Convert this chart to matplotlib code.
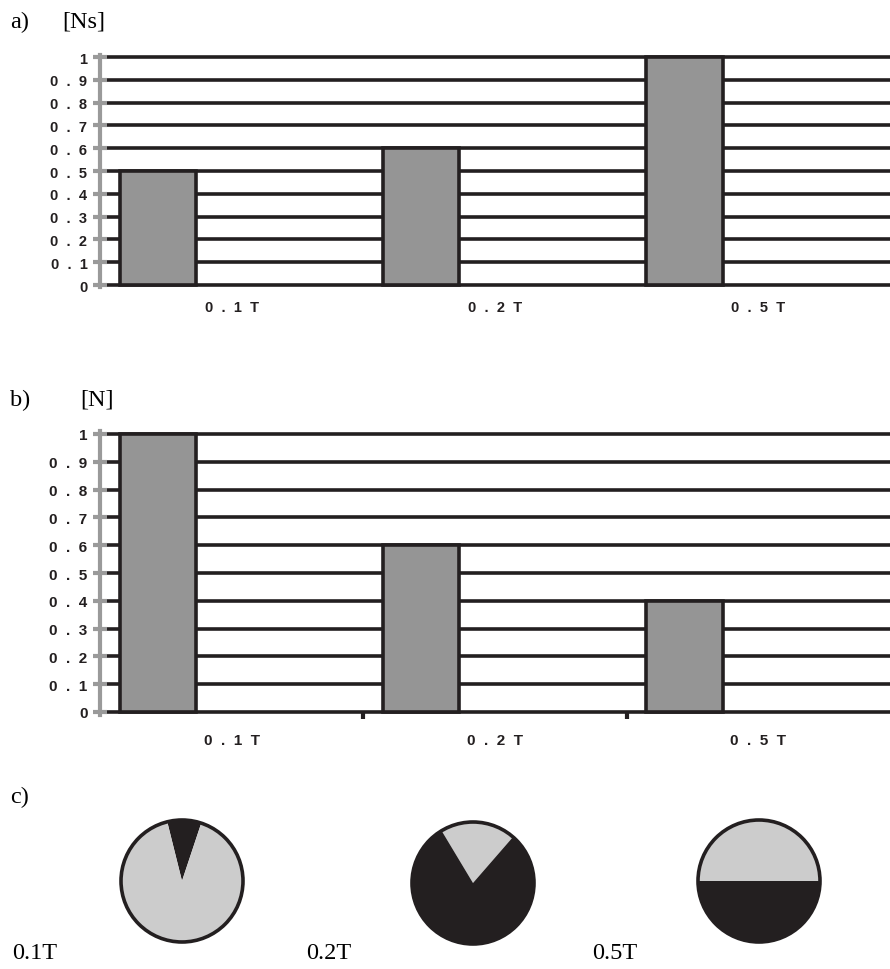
import matplotlib
matplotlib.use("Agg")
import matplotlib.pyplot as plt
from matplotlib.patches import Circle

categories = ["0.1T", "0.2T", "0.5T"]
xlabels_spaced = ["0  .  1  T", "0  .  2  T", "0  .  5  T"]
values_a = [0.5, 0.6, 1.0]
values_b = [1.0, 0.6, 0.4]
yticks = [0, 0.1, 0.2, 0.3, 0.4, 0.5, 0.6, 0.7, 0.8, 0.9, 1.0]
ytick_labels = ["0", "0  .  1", "0  .  2", "0  .  3", "0  .  4", "0  .  5",
                "0  .  6", "0  .  7", "0  .  8", "0  .  9", "1"]
# pie fractions: (first wedge, second wedge); first wedge drawn clockwise from start angle
pie_fracs = [[0.09, 0.91], [0.20, 0.80], [0.5, 0.5]]
pie_colors = [["#231f20", "#cccccc"], ["#cccccc", "#231f20"], ["#cccccc", "#231f20"]]
pie_start = [104, 121, 180]

W, H = 890, 970
fig = plt.figure(figsize=(W / 100, H / 100), dpi=100)

BLACK = "#231f20"
BARC = "#959595"
GRAYSP = "#9a9a9a"

def px_axes(left, top, right, bottom):
    return fig.add_axes([left / W, 1 - bottom / H, (right - left) / W, (bottom - top) / H])

def bar_panel(ax, vals, fs, xt_ticks, label_y):
    x = list(range(len(vals)))
    ax.set_xlim(-0.5, 2.5)
    ax.set_ylim(0, 1)
    for y in yticks:
        ax.axhline(y, color=BLACK, lw=2.6, zorder=1, clip_on=False,
                   xmin=0.004)
    ax.bar([xi - 0.28 for xi in x], vals, width=0.29, color=BARC,
           edgecolor=BLACK, linewidth=2.6, zorder=3, clip_on=False)
    for s in ["top", "right", "bottom"]:
        ax.spines[s].set_visible(False)
    ax.spines["left"].set_color(GRAYSP)
    ax.spines["left"].set_linewidth(3)
    ax.spines["left"].set_bounds(-0.01, 1.01)
    ax.set_yticks(yticks)
    ax.set_yticklabels(ytick_labels, fontsize=fs, fontweight="bold",
                       family="Liberation Sans", color=BLACK)
    ax.tick_params(axis="y", direction="inout", length=10, width=3,
                   color=GRAYSP, pad=4)
    if xt_ticks:
        ax.set_xticks([0.5, 1.5])
        ax.tick_params(axis="x", direction="out", length=5, width=3, color=BLACK)
        ax.set_xticklabels(["", ""])
    else:
        ax.set_xticks([])
    for xi, lab in zip(x, xlabels_spaced):
        ax.text(xi, label_y, lab, transform=ax.transData, ha="center", va="center",
                fontsize=fs, fontweight="bold", family="Liberation Sans", color=BLACK,
                clip_on=False)

ax_a = px_axes(100, 58, 890, 286)
bar_panel(ax_a, values_a, 10.5, False, -0.095)
ax_b = px_axes(100, 435, 890, 713)
bar_panel(ax_b, values_b, 11, True, -0.1)

serif = "Liberation Serif"
hs = 17.5
fig.text(10 / W, 1 - 22 / H, "a)", fontsize=hs, family=serif, va="center", ha="left")
fig.text(62 / W, 1 - 22 / H, "[Ns]", fontsize=hs, family=serif, va="center", ha="left")
fig.text(10 / W, 1 - 400 / H, "b)", fontsize=hs, family=serif, va="center", ha="left")
fig.text(80 / W, 1 - 400 / H, "[N]", fontsize=hs, family=serif, va="center", ha="left")
fig.text(10 / W, 1 - 797 / H, "c)", fontsize=hs, family=serif, va="center", ha="left")

centers = [(182, 882), (473, 884), (759, 882)]
radius = 61
label_x = [12, 306, 592]
for i, (cx, cy) in enumerate(centers):
    ax = px_axes(cx - 70, cy - 70, cx + 70, cy + 70)
    ax.pie(pie_fracs[i], colors=pie_colors[i], startangle=pie_start[i],
           counterclock=False, radius=radius / 70 * 1.0,
           wedgeprops=dict(linewidth=0))
    ax.add_patch(Circle((0, 0), radius / 70, fill=False, edgecolor=BLACK, lw=2.6))
    ax.set_xlim(-1, 1)
    ax.set_ylim(-1, 1)
    ax.set_aspect("equal")
    ax.axis("off")
    fig.text(label_x[i] / W, 1 - 954 / H, categories[i], fontsize=hs, family=serif,
             va="center", ha="left")

fig.savefig("out.png", dpi=100)
